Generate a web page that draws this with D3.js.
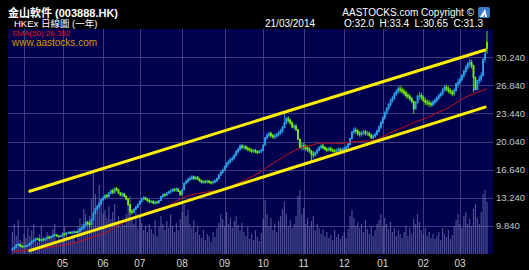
<!DOCTYPE html>
<html>
<head>
<meta charset="utf-8">
<script src="https://cdn.jsdelivr.net/npm/d3@7"></script>
<style>
  body { margin: 0; background: #000; }
  svg { display: block; }
</style>
</head>
<body>
<svg width="529" height="270"></svg>
<script>
// daily closes, 21/03/2013 .. 21/03/2014
const closes = [
  7.00, 7.25, 7.55, 7.60, 7.40, 7.30, 7.35, 7.45, 7.50, 7.75,
  8.00, 8.10, 8.30, 8.25, 8.05, 8.20, 8.15, 8.30, 8.45, 8.40,
  8.55, 8.70, 8.75, 8.60, 8.55, 8.65, 8.85, 8.80, 9.00, 9.05,
  8.95, 9.10, 9.10, 9.05, 9.20, 9.45, 9.60, 9.95, 10.25, 10.10,
  10.00, 10.60, 11.40, 11.90, 12.20, 12.50, 13.00, 13.25, 13.50, 13.40,
  13.80, 14.10, 13.90, 14.35, 14.20, 13.80, 13.55, 13.70, 13.40, 13.10,
  12.40, 11.60, 11.50, 11.85, 12.10, 12.45, 12.80, 13.10, 13.25, 13.05,
  12.90, 12.75, 12.80, 12.60, 12.70, 12.65, 12.90, 13.40, 13.60, 13.55,
  13.80, 13.95, 14.05, 14.25, 14.15, 14.30, 14.00, 13.60, 14.20, 15.00,
  15.20, 15.45, 15.60, 15.75, 15.55, 15.70, 15.50, 15.30, 15.10, 15.20,
  15.15, 15.25, 15.10, 15.05, 15.15, 15.30, 15.55, 16.00, 16.30, 16.60,
  17.00, 17.40, 17.60, 17.85, 18.00, 18.40, 18.80, 19.10, 19.50, 19.35,
  19.40, 19.20, 19.10, 19.00, 18.85, 18.95, 18.80, 18.70, 18.90, 18.95,
  19.60, 20.50, 20.80, 21.00, 20.75, 20.60, 20.70, 20.90, 21.10, 21.30,
  21.70, 22.30, 22.80, 22.60, 22.30, 21.80, 21.90, 21.50, 20.30, 19.30,
  19.50, 19.40, 19.20, 19.10, 18.90, 18.50, 18.40, 18.70, 19.00, 19.30,
  19.50, 19.30, 19.10, 19.00, 19.20, 19.00, 18.90, 18.85, 19.00, 19.10,
  18.95, 19.05, 19.20, 19.35, 19.70, 20.40, 21.20, 21.40, 21.30, 21.00,
  20.90, 21.10, 21.20, 21.00, 21.05, 20.80, 20.50, 20.70, 20.90, 21.30,
  21.80, 22.30, 22.90, 23.50, 24.00, 24.50, 25.00, 25.30, 25.80, 26.10,
  26.40, 26.30, 26.10, 25.90, 25.60, 25.50, 25.20, 24.90, 24.00, 24.80,
  25.50, 25.60, 25.40, 25.00, 24.80, 24.70, 24.60, 24.50, 24.80, 25.00,
  25.30, 25.60, 25.80, 26.30, 26.60, 26.40, 26.20, 26.00, 25.80, 26.20,
  27.00, 27.20, 27.50, 28.00, 28.50, 29.00, 29.40, 29.60, 29.20, 27.80,
  26.30, 27.40, 27.60, 28.00, 30.00, 30.60, 31.30
];

// daily high-low range, same days
const ranges = [
  0.35, 0.30, 0.45, 0.40, 0.30, 0.25, 0.30, 0.28, 0.35, 0.40,
  0.40, 0.35, 0.45, 0.30, 0.35, 0.30, 0.28, 0.35, 0.40, 0.30,
  0.35, 0.40, 0.35, 0.30, 0.28, 0.32, 0.40, 0.35, 0.38, 0.30,
  0.30, 0.35, 0.30, 0.28, 0.40, 0.50, 0.45, 0.60, 0.70, 0.55,
  0.90, 0.80, 1.00, 0.85, 0.70, 0.80, 0.75, 0.60, 0.70, 0.55,
  0.70, 0.60, 0.65, 0.75, 0.55, 0.60, 0.50, 0.55, 0.50, 0.60,
  0.90, 0.80, 0.60, 0.55, 0.60, 0.50, 0.55, 0.60, 0.50, 0.45,
  0.45, 0.50, 0.40, 0.45, 0.50, 0.40, 0.45, 0.60, 0.55, 0.45,
  0.50, 0.45, 0.55, 0.50, 0.45, 0.50, 0.45, 0.60, 0.70, 0.75,
  0.60, 0.65, 0.55, 0.60, 0.55, 0.50, 0.55, 0.50, 0.45, 0.50,
  0.45, 0.50, 0.45, 0.40, 0.50, 0.45, 0.55, 0.60, 0.65, 0.60,
  0.70, 0.75, 0.65, 0.70, 0.60, 0.70, 0.80, 0.70, 0.75, 0.65,
  0.60, 0.55, 0.60, 0.50, 0.55, 0.50, 0.55, 0.50, 0.45, 0.55,
  0.80, 0.95, 0.80, 0.70, 0.75, 0.60, 0.65, 0.60, 0.70, 0.75,
  0.90, 1.00, 0.90, 0.80, 0.75, 0.80, 0.70, 0.85, 1.10, 1.20,
  0.90, 0.85, 0.75, 0.80, 0.70, 0.90, 0.80, 0.65, 0.70, 0.65,
  0.60, 0.65, 0.55, 0.60, 0.55, 0.60, 0.50, 0.55, 0.50, 0.55,
  0.50, 0.55, 0.60, 0.55, 0.65, 0.90, 1.00, 0.85, 0.75, 0.80,
  0.70, 0.75, 0.65, 0.70, 0.65, 0.60, 0.70, 0.60, 0.65, 0.75,
  0.90, 1.00, 0.90, 1.00, 0.95, 0.90, 1.00, 0.85, 0.95, 0.80,
  0.90, 0.85, 0.80, 0.85, 0.90, 0.80, 0.85, 0.80, 1.20, 1.00,
  1.10, 0.95, 0.85, 0.80, 0.90, 0.75, 0.80, 0.70, 0.75, 0.70,
  0.75, 0.80, 0.70, 0.90, 0.85, 0.80, 0.85, 0.75, 0.80, 0.90,
  1.00, 1.10, 0.95, 0.90, 1.00, 1.10, 0.95, 1.00, 1.05, 1.30,
  1.40, 1.10, 1.00, 1.20, 1.50, 1.40, 2.75
];

// volume, same days (relative units)
const volumes = [
  22, 30, 18, 34, 14, 12, 20, 16, 26, 18,
  24, 30, 15, 12, 20, 28, 17, 14, 22, 19,
  16, 25, 30, 12, 18, 14, 22, 27, 20, 16,
  15, 19, 24, 13, 28, 36, 30, 45, 40, 33,
  38, 55, 81, 60, 47, 69, 52, 40, 44, 36,
  48, 35, 42, 50, 30, 38, 27, 33, 29, 40,
  52, 58, 35, 30, 42, 26, 38, 31, 24, 28,
  22, 30, 25, 20, 34, 18, 27, 38, 30, 24,
  33, 26, 40, 28, 22, 31, 24, 35, 42, 50,
  38, 44, 30, 26, 34, 22, 28, 19, 16, 24,
  14, 20, 18, 12, 22, 17, 26, 31, 40, 35,
  28, 42, 30, 36, 26, 33, 38, 29, 24, 31,
  22, 18, 27, 15, 20, 14, 24, 17, 13, 21,
  35, 54, 40, 28, 36, 24, 30, 22, 33, 38,
  45, 52, 40, 28, 34, 26, 30, 38, 58, 64,
  40, 46, 30, 36, 28, 33, 38, 24, 30, 26,
  20, 25, 18, 22, 16, 19, 14, 24, 17, 20,
  15, 18, 22, 16, 25, 38, 44, 36, 28, 32,
  26, 30, 22, 34, 25, 20, 28, 18, 24, 30,
  34, 40, 28, 36, 30, 25, 32, 22, 26, 18,
  24, 20, 16, 22, 28, 18, 26, 20, 35, 30,
  40, 32, 24, 20, 26, 18, 22, 16, 20, 15,
  18, 22, 14, 26, 20, 17, 24, 15, 19, 28,
  34, 40, 30, 26, 38, 42, 30, 35, 28, 45,
  50, 36, 30, 42, 60, 64, 52
];

// a few visible long shadows: [day, high, low]
const shadows = [[61, 12.3, 11.2], [141, 23.4, 22.0], [155, 19.0, 17.6], [208, 24.9, 23.4], [239, 29.3, 26.0], [246, 33.4, 30.65]];
const lastBar = { date: "21/03/2014", o: 32.0, h: 33.4, l: 30.65, c: 31.3 };

// SMA(50): day index / value
const smaDays = [0, 10, 20, 30, 40, 50, 55, 60, 65, 70, 80, 90, 100, 110, 115, 120, 125, 130, 135, 140, 145, 150, 155, 160, 165, 170, 175, 180, 185, 190, 195, 200, 205, 210, 215, 220, 225, 230, 235, 240, 246];
const smaVals = [6.7, 6.95, 7.3, 7.65, 8.35, 9.2, 9.9, 10.5, 11.0, 11.5, 12.2, 13.4, 13.9, 14.3, 14.8, 15.3, 15.9, 16.6, 17.4, 18.1, 18.8, 19.3, 19.6, 19.85, 19.85, 19.8, 19.95, 20.05, 20.1, 20.4, 21.0, 21.5, 22.0, 22.5, 22.9, 23.5, 24.0, 24.7, 25.4, 25.9, 26.392];

// trend channel: [day, price] end points
const upperChannel = [[9, 14.03], [245, 31.10]];
const lowerChannel = [[9, 6.85], [245, 24.2]];

const monthStarts = [6, 26, 47, 66, 88, 110, 130, 151, 172, 192, 213, 232];
const monthLabels = ["", "05", "06", "07", "08", "09", "10", "11", "12", "01", "02", "03"];
const priceTicks = [9.84, 13.24, 16.64, 20.04, 23.44, 26.84, 30.24];

const plot = { left: 8, right: 493, top: 29, bottom: 254 };

const svg = d3.select("svg");
const font = "'Liberation Sans', Arial, 'Noto Sans CJK TC', sans-serif";

svg.append("rect").attr("width", 529).attr("height", 270).attr("fill", "#000");

svg.append("defs").append("clipPath").attr("id", "clip")
  .append("rect")
  .attr("x", plot.left).attr("y", plot.top)
  .attr("width", plot.right - plot.left).attr("height", plot.bottom - plot.top);

svg.append("rect")
  .attr("x", plot.left).attr("y", plot.top)
  .attr("width", plot.right - plot.left).attr("height", plot.bottom - plot.top)
  .attr("fill", "#00004e");

const x = d3.scaleLinear().domain([0, closes.length - 1]).range([12.4, 487]);
const y = d3.scaleLinear().domain([6.44, 33.64]).range([plot.bottom, plot.top]);
const v = d3.scaleLinear().domain([0, 85]).range([plot.bottom, plot.bottom - 85]);

const g = svg.append("g").attr("clip-path", "url(#clip)");

// grid
g.selectAll(".hg").data(priceTicks).enter().append("line")
  .attr("x1", plot.left).attr("x2", plot.right)
  .attr("y1", d => Math.round(y(d)) + 0.5).attr("y2", d => Math.round(y(d)) + 0.5)
  .attr("stroke", "#3c3c7e").attr("stroke-width", 1);
g.selectAll(".vg").data(monthStarts).enter().append("line")
  .attr("x1", d => Math.round(x(d)) + 0.5).attr("x2", d => Math.round(x(d)) + 0.5)
  .attr("y1", plot.top).attr("y2", plot.bottom)
  .attr("stroke", "#3c3c7e").attr("stroke-width", 1);

// volume
g.selectAll(".vol").data(volumes).enter().append("rect")
  .attr("x", (d, i) => x(i) - 0.6)
  .attr("width", 1.2)
  .attr("y", d => v(d))
  .attr("height", d => plot.bottom - v(d))
  .attr("fill", "#8a8ac4")
  .attr("opacity", 0.55);

// candles (open = previous close, shadows from the daily range)
const shadowMap = new Map(shadows.map(s => [s[0], s]));
const bars = closes.map((c, i) => {
  const last = i === closes.length - 1;
  const o = last ? lastBar.o : (i === 0 ? c : closes[i - 1]);
  const mid = (o + c) / 2;
  let hi = Math.max(o, c, mid + ranges[i] / 2);
  let lo = Math.min(o, c, mid - ranges[i] / 2);
  if (shadowMap.has(i)) { hi = shadowMap.get(i)[1]; lo = shadowMap.get(i)[2]; }
  return { i, o, c, hi, lo };
});
const upCol = "#2ea6e6", downCol = "#7df000";

g.selectAll(".wick").data(bars).enter().append("line")
  .attr("x1", d => x(d.i)).attr("x2", d => x(d.i))
  .attr("y1", d => y(d.hi)).attr("y2", d => y(d.lo))
  .attr("stroke", d => d.c >= d.o ? "#1c7fd8" : "#4fc000")
  .attr("stroke-width", 1.2);

g.selectAll(".candle").data(bars).enter().append("rect")
  .attr("x", d => x(d.i) - 0.9)
  .attr("width", 1.8)
  .attr("y", d => y(Math.max(d.o, d.c)) - 0.5)
  .attr("height", d => Math.max(1.5, Math.abs(y(d.o) - y(d.c)) + 1))
  .attr("fill", d => d.c >= d.o ? upCol : downCol);

// SMA(50)
g.append("path")
  .datum(smaDays.map((d, k) => [d, smaVals[k]]))
  .attr("d", d3.line().x(d => x(d[0])).y(d => y(d[1])).curve(d3.curveMonotoneX))
  .attr("fill", "none")
  .attr("stroke", "#c8101a")
  .attr("stroke-width", 1);

// channel lines
[upperChannel, lowerChannel].forEach(ch => {
  g.append("line")
    .attr("x1", x(ch[0][0])).attr("y1", y(ch[0][1]))
    .attr("x2", x(ch[1][0])).attr("y2", y(ch[1][1]))
    .attr("stroke", "#ffee00")
    .attr("stroke-width", 3)
    .attr("stroke-linecap", "round");
});

// right price labels
svg.selectAll(".pl").data(priceTicks).enter().append("text")
  .attr("x", 496).attr("y", d => y(d) + 3.5)
  .attr("fill", "#c8c8c8")
  .style("font-family", font).style("font-size", "9.5px")
  .text(d => d.toFixed(3));

// month labels
svg.selectAll(".ml").data(monthStarts).enter().append("text")
  .attr("x", d => x(d)).attr("y", 267)
  .attr("text-anchor", "middle")
  .attr("fill", "#d8d8d8")
  .style("font-family", font).style("font-size", "10px")
  .text((d, i) => monthLabels[i]);

// header texts
svg.append("text").attr("x", 8).attr("y", 16.5)
  .attr("fill", "#fff").style("font-family", font).style("font-size", "11px").style("font-weight", "bold")
  .text("金山軟件 (003888.HK)");
svg.append("text").attr("x", 14).attr("y", 26.5)
  .attr("fill", "#fff").style("font-family", font).style("font-size", "9.5px")
  .text("HKEx 日線圖 (一年)");
svg.append("text").attr("x", 12).attr("y", 36)
  .attr("fill", "#e0101a").style("font-family", font).style("font-size", "8px")
  .text("SMA(50):" + smaVals[smaVals.length - 1].toFixed(3));
svg.append("text").attr("x", 12).attr("y", 46)
  .attr("fill", "#d69a00").style("font-family", font).style("font-size", "10px")
  .text("www.aastocks.com");

svg.append("text").attr("x", 474).attr("y", 16)
  .attr("text-anchor", "end")
  .attr("fill", "#fff").style("font-family", font).style("font-size", "10px")
  .text("AASTOCKS.com Copyright ©");
svg.append("text").attr("x", 265).attr("y", 27)
  .attr("fill", "#fff").style("font-family", font).style("font-size", "10px")
  .text(lastBar.date);
svg.append("text").attr("x", 483).attr("y", 27)
  .attr("text-anchor", "end")
  .attr("fill", "#fff").style("font-family", font).style("font-size", "10px")
  .attr("xml:space", "preserve")
  .text(`O:${lastBar.o.toFixed(1)}  H:${lastBar.h}  L:${lastBar.l}  C:${lastBar.c}`);

// logo
const logo = svg.append("g").attr("transform", "translate(478,7)");
logo.append("rect").attr("width", 12).attr("height", 11).attr("rx", 2).attr("fill", "#3a78c8");
logo.append("path").attr("d", "M2,10 L7,2 L9,10 L7,10 L6.5,7 L5,10 Z").attr("fill", "#fff");
</script>
</body>
</html>
